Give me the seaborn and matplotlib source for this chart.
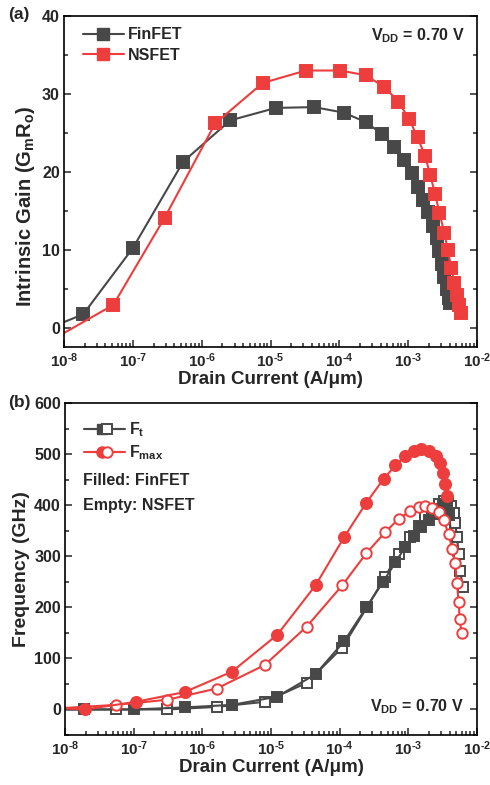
# Intrinsic gain and Ft / Fmax vs drain current, FinFET vs NSFET

import matplotlib
matplotlib.use('Agg')
import matplotlib.pyplot as plt
import pandas as pd
import seaborn as sns
from matplotlib.lines import Line2D
from matplotlib.legend_handler import HandlerTuple
from matplotlib.ticker import LogLocator, MultipleLocator, NullFormatter, FixedLocator

GREY = '#484848'
RED = '#EE3D3D'

# (a) intrinsic gain, first point of each list only carries the line to the axis
fin_gain_id = [1.0e-8, 1.9e-8, 1.0e-7, 5.4e-7, 2.6e-6, 1.2e-5, 4.3e-5, 1.15e-4, 2.4e-4, 4.1e-4,
               6.3e-4, 8.7e-4, 1.13e-3, 1.38e-3, 1.66e-3, 1.97e-3, 2.28e-3, 2.6e-3, 2.85e-3,
               3.09e-3, 3.37e-3, 3.65e-3, 3.9e-3, 4.05e-3]
fin_gain = [0.7, 1.7, 10.2, 21.3, 26.6, 28.2, 28.3, 27.6, 26.4, 24.9,
            23.2, 21.5, 19.8, 18.0, 16.4, 14.8, 13.1, 11.5, 9.8,
            8.1, 6.5, 5.0, 3.8, 3.1]
nsf_gain_id = [1.0e-8, 5.2e-8, 2.9e-7, 1.57e-6, 7.7e-6, 3.26e-5, 1.03e-4, 2.4e-4, 4.5e-4, 7.2e-4,
               1.03e-3, 1.37e-3, 1.77e-3, 2.09e-3, 2.47e-3, 2.85e-3, 3.34e-3, 3.78e-3, 4.22e-3,
               4.67e-3, 5.1e-3, 5.5e-3, 5.9e-3]
nsf_gain = [-0.7, 2.9, 14.1, 26.2, 31.4, 33.0, 33.0, 32.4, 30.9, 29.0,
            26.8, 24.4, 22.0, 19.6, 17.1, 14.7, 12.2, 9.9, 7.7,
            5.7, 4.2, 2.9, 1.9]

# (b) frequency; the last two FinFET Ft points are line only (no visible marker)
fin_ft_id = [1.0e-8, 1.9e-8, 1.0e-7, 5.5e-7, 2.7e-6, 1.23e-5, 4.45e-5, 1.17e-4, 2.45e-4, 4.3e-4,
             6.5e-4, 9.0e-4, 1.2e-3, 1.55e-3, 2.0e-3, 2.5e-3, 2.9e-3, 3.15e-3, 3.45e-3,
             3.7e-3, 3.95e-3, 4.2e-3, 4.5e-3]
fin_ft = [0, 0, 0, 4, 9, 25, 69, 134, 200, 250,
          288, 318, 340, 358, 370, 382, 392, 398, 402,
          404, 380, 340, 300]
fin_fmax_id = [1.0e-8, 1.95e-8, 1.08e-7, 5.5e-7, 2.7e-6, 1.23e-5, 4.45e-5, 1.17e-4, 2.45e-4, 4.4e-4,
               6.5e-4, 9.0e-4, 1.2e-3, 1.55e-3, 2.0e-3, 2.5e-3, 2.9e-3, 3.15e-3, 3.45e-3, 3.7e-3]
fin_fmax = [2, 0, 15, 34, 74, 146, 243, 338, 405, 452,
            478, 496, 506, 510, 507, 497, 482, 462, 442, 417]
nsf_ft_id = [1.0e-8, 5.5e-8, 3.1e-7, 1.62e-6, 8.1e-6, 3.3e-5, 1.09e-4, 2.5e-4, 4.6e-4, 7.2e-4,
             1.07e-3, 1.41e-3, 1.77e-3, 2.2e-3, 2.76e-3, 3.26e-3, 3.8e-3, 4.2e-3, 4.55e-3,
             4.8e-3, 5.1e-3, 5.4e-3, 5.7e-3, 6.2e-3]
nsf_ft = [0, 0, 0, 5, 15, 52, 121, 200, 260, 305,
          338, 360, 378, 393, 403, 409, 406, 398, 385,
          366, 338, 305, 272, 240]
nsf_fmax_id = [1.0e-8, 5.5e-8, 3.1e-7, 1.62e-6, 8.1e-6, 3.3e-5, 1.09e-4, 2.45e-4, 4.6e-4, 7.2e-4,
               1.07e-3, 1.41e-3, 1.77e-3, 2.2e-3, 2.76e-3, 3.26e-3, 3.86e-3, 4.32e-3, 4.82e-3,
               5.1e-3, 5.4e-3, 5.6e-3, 5.95e-3]
nsf_fmax = [3, 9, 19, 41, 87, 162, 243, 306, 347, 373,
            389, 396, 399, 395, 386, 370, 344, 315, 286,
            248, 210, 178, 149]

x_ticks = [1e-8, 1e-7, 1e-6, 1e-5, 1e-4, 1e-3, 1e-2]
x_labels = [r'10$^{\text{-8}}$', r'10$^{\text{-7}}$', r'10$^{\text{-6}}$', r'10$^{\text{-5}}$',
            r'10$^{\text{-4}}$', r'10$^{\text{-3}}$', r'10$^{\text{-2}}$']

sns.set_theme(style='ticks')
plt.rcParams['font.family'] = ['Liberation Sans', 'DejaVu Sans']
plt.rcParams['font.weight'] = 'bold'
plt.rcParams['axes.labelweight'] = 'bold'
plt.rcParams['mathtext.fontset'] = 'custom'
plt.rcParams['mathtext.rm'] = 'Liberation Sans:bold'
plt.rcParams['mathtext.it'] = 'Liberation Sans:bold'
plt.rcParams['mathtext.bf'] = 'Liberation Sans:bold'
plt.rcParams['mathtext.default'] = 'rm'


def series(ax, xs, ys, color, marker, size, filled, mark_from=1, mark_to=None):
    df = pd.DataFrame({'id': xs, 'val': ys})
    stop = len(xs) if mark_to is None else mark_to
    sns.lineplot(data=df, x='id', y='val', ax=ax, color=color, lw=1.5, estimator=None,
                 sort=False, marker=marker, markersize=size, markeredgewidth=1.4,
                 markeredgecolor=color, markerfacecolor=color if filled else 'white',
                 markevery=list(range(mark_from, stop)))


def style_axis(ax, ymin, ymax, ymajor, yminor):
    ax.set_xscale('log')
    ax.set_xlim(1e-8, 1e-2)
    ax.set_ylim(ymin, ymax)
    ax.xaxis.set_major_locator(FixedLocator(x_ticks))
    ax.set_xticklabels(x_labels)
    ax.xaxis.set_minor_locator(LogLocator(base=10, subs=range(2, 10), numticks=20))
    ax.xaxis.set_minor_formatter(NullFormatter())
    ax.yaxis.set_major_locator(MultipleLocator(ymajor))
    ax.yaxis.set_minor_locator(MultipleLocator(yminor))
    ax.tick_params(which='both', direction='in', top=False, right=True, width=1.1,
                   labelsize=11.5, pad=3)
    ax.tick_params(axis='x', labelsize=11)
    ax.tick_params(which='major', length=5)
    ax.tick_params(which='minor', length=3)
    for s in ax.spines.values():
        s.set_linewidth(1.2)
        s.set_color('black')
    ax.set_xlabel('Drain Current (A/\u03bcm)', fontsize=13.5, labelpad=1)


fig = plt.figure(figsize=(4.9, 7.85), dpi=100)
ax1 = fig.add_axes([64 / 490, 1 - 347 / 785, 413 / 490, 331 / 785])
ax2 = fig.add_axes([65 / 490, 1 - 735 / 785, 412 / 490, 332 / 785])

# panel (a)
series(ax1, fin_gain_id, fin_gain, GREY, 's', 8, True)
series(ax1, nsf_gain_id, nsf_gain, RED, 's', 8, True)
style_axis(ax1, -2.5, 40, 10, 5)
ax1.set_ylabel(r'Intrinsic Gain (G$_{\mathregular{m}}$R$_{\mathregular{o}}$)', fontsize=14.5)
ax1.yaxis.set_label_coords(-0.066, 0.425)
h_fin = Line2D([], [], color=GREY, lw=1.5, marker='s', markersize=8)
h_nsf = Line2D([], [], color=RED, lw=1.5, marker='s', markersize=8)
ax1.legend([h_fin, h_nsf], ['FinFET', 'NSFET'], loc='upper left', frameon=False,
           fontsize=11.5, handlelength=2.6, handletextpad=0.25, labelspacing=0.35,
           borderaxespad=0.3, bbox_to_anchor=(0.018, 1.0))
ax1.text(0.970, 0.940, r'V$_{\mathregular{DD}}$ = 0.70 V', transform=ax1.transAxes,
         ha='right', va='center', fontsize=11.5, fontweight='bold')

# panel (b)
series(ax2, nsf_ft_id, nsf_ft, GREY, 's', 7, False)
series(ax2, fin_ft_id, fin_ft, GREY, 's', 7.5, True, mark_to=len(fin_ft_id) - 2)
series(ax2, nsf_fmax_id, nsf_fmax, RED, 'o', 7.5, False)
series(ax2, fin_fmax_id, fin_fmax, RED, 'o', 8, True)
style_axis(ax2, -50, 600, 100, 50)
ax2.set_ylabel('Frequency (GHz)', fontsize=14, labelpad=3)

ft_pair = (Line2D([], [], color=GREY, lw=1.5, marker='s', markersize=7.5),
           Line2D([], [], color=GREY, lw=1.5, marker='s', markersize=7,
                  markerfacecolor='white', markeredgewidth=1.4))
fm_pair = (Line2D([], [], color=RED, lw=1.5, marker='o', markersize=8),
           Line2D([], [], color=RED, lw=1.5, marker='o', markersize=7.5,
                  markerfacecolor='white', markeredgewidth=1.4))
ax2.legend([ft_pair, fm_pair], [r'F$_{\mathregular{t}}$', r'F$_{\mathregular{max}}$'],
           handler_map={tuple: HandlerTuple(ndivide=2, pad=-2.05)},
           loc='upper left', frameon=False, fontsize=11.5, handlelength=2.6,
           handletextpad=0.25, labelspacing=0.3, borderaxespad=0.3, bbox_to_anchor=(0.018, 0.982))
ax2.text(0.044, 0.766, 'Filled: FinFET', transform=ax2.transAxes, ha='left', va='center',
         fontsize=11.5, fontweight='bold')
ax2.text(0.044, 0.692, 'Empty: NSFET', transform=ax2.transAxes, ha='left', va='center',
         fontsize=11.5, fontweight='bold')
ax2.text(0.968, 0.084, r'V$_{\mathregular{DD}}$ = 0.70 V', transform=ax2.transAxes,
         ha='right', va='center', fontsize=11.5, fontweight='bold')

fig.text(8 / 490, 1 - 14 / 785, '(a)', fontsize=12.5, fontweight='bold', ha='left', va='center')
fig.text(8 / 490, 1 - 403 / 785, '(b)', fontsize=12.5, fontweight='bold', ha='left', va='center')

fig.savefig('out.png', dpi=100)
